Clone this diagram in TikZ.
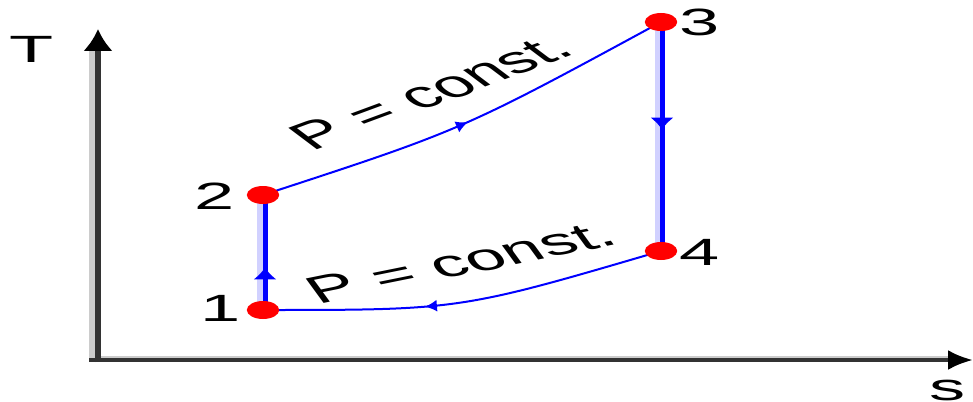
\documentclass[tikz,border=0pt]{standalone}
\usepackage{fontspec}
\setmainfont{Liberation Sans}
\usetikzlibrary{arrows.meta,decorations.markings}
\begin{document}
\begin{tikzpicture}[x=1pt,y=-1pt,
  lbl/.style={font=\fontsize{38}{38}\selectfont, inner sep=0pt, xscale=1.9},
  dot/.style={circle, fill=red, inner sep=0pt, minimum size=18pt, xscale=1.8},
  proc/.style={draw=blue, line width=2pt},
  vproc/.style={draw=blue, line width=5pt},
  halo/.style={draw=blue!18, line width=6pt},
  axisline/.style={draw=black!80},
  axishalo/.style={draw=black!20},
  midarrow/.style={postaction={decorate}, decoration={markings, mark=at position #1 with {\arrow{Latex[length=12pt,width=12pt]}}}},
  vmidarrow/.style={postaction={decorate}, decoration={markings, mark=at position #1 with {\arrow{Latex[length=12pt,width=24pt]}}}},
]
\useasboundingbox (0,0) rectangle (973,401);
% axes
\coordinate (O) at (98,360);
\coordinate (Ytip) at (98,29);
\coordinate (Xtip) at (973,360);
\draw[axishalo, line width=6pt] ([xshift=-6pt,yshift=-2pt]O) -- ([xshift=-6pt,yshift=-18pt]Ytip);
\draw[axishalo, line width=2.5pt] ([xshift=-9pt,yshift=3pt]O) -- ([xshift=-25pt,yshift=3pt]Xtip);
\draw[axisline, line width=6pt, -{Latex[length=22pt,width=30pt,color=black]}] ([yshift=-2pt]O) -- (Ytip);
\draw[axisline, line width=4pt, -{Latex[length=25pt,width=20pt,color=black]}] ([xshift=-9pt]O) -- (Xtip);
% state points
\coordinate (p1) at (263,310);
\coordinate (p2) at (263,195);
\coordinate (p3) at (661,22);
\coordinate (p4) at (661,251);
% processes
\draw[halo] ([xshift=-3pt]p1) -- ([xshift=-3pt]p2);
\draw[vproc, vmidarrow=0.37] ([xshift=2pt]p1) -- ([xshift=2pt]p2);
\draw[halo] ([xshift=-3pt]p3) -- ([xshift=-3pt]p4);
\draw[vproc, vmidarrow=0.47] ([xshift=1pt]p3) -- ([xshift=1pt]p4);
\draw[proc, midarrow=0.5] (p2) .. controls (462,130) .. (p3);
\draw[proc, midarrow=0.6] (p4) .. controls (460,310) .. (p1);
% dots
\node[dot] (d1) at (p1) {};
\node[dot] (d2) at (p2) {};
\node[dot] (d3) at (p3) {};
\node[dot] (d4) at (p4) {};
% labels
\node[lbl] (T) at (32,49) {T};
\node[lbl, anchor=base] (s) at (948,400) {s};
\node[lbl] (n1) at (221,308) {1};
\node[lbl] (n2) at (215,196) {2};
\node[lbl] (n3) at (700,22) {3};
\node[lbl] (n4) at (700,252) {4};
\node[lbl, rotate=35] (pu) at (431,92) {P = const.};
\node[lbl, rotate=21] (pl) at (461,262) {P = const.};
\end{tikzpicture}
\end{document}
